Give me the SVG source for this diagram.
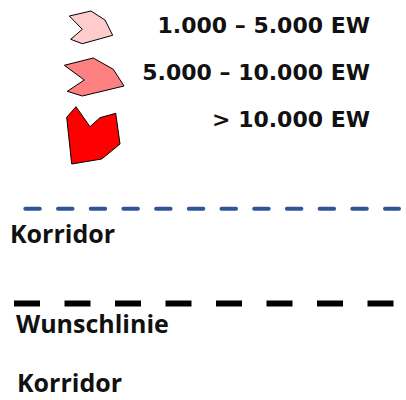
<svg xmlns="http://www.w3.org/2000/svg" width="406" height="400" viewBox="0 0 406 400">
  <style>
    .lbl { font-family: "Open Sans", "DejaVu Sans", sans-serif; font-weight: bold; font-size: 25px; fill: #111; }
    .num { font-family: "DejaVu Sans", "Open Sans", sans-serif; font-size: 22px; text-anchor: end; }
    .poly { stroke: #000; stroke-width: 1; stroke-linejoin: miter; }
  </style>
  <rect width="406" height="400" fill="#fff"/>

  <!-- population classes -->
  <g id="class-low">
    <polygon class="poly" fill="#FFCCCC" points="69.3,16 91,11 105,20 112.7,35.3 82.3,43.7 70.7,39.3 82.3,29.3"/>
    <text class="lbl num" x="370" y="33">1.000 – 5.000 EW</text>
  </g>
  <g id="class-mid">
    <polygon class="poly" fill="#FF8080" points="64.3,65.3 93.3,58 113.3,69.3 124,86 82.3,96 67.3,91.3 84.3,80"/>
    <text class="lbl num" x="370" y="80">5.000 – 10.000 EW</text>
  </g>
  <g id="class-high">
    <polygon class="poly" fill="#FF0000" points="66.7,117.3 76,106.7 90,126.7 100,117.7 115.7,113.3 120,144 101.7,159 71.7,164"/>
    <text class="lbl num" x="370" y="127">&gt; 10.000 EW</text>
  </g>

  <!-- line types -->
  <g id="connectors">
    <line x1="25.3" y1="208.7" x2="399" y2="208.7" stroke="#2F5597" stroke-width="4" stroke-linecap="round" stroke-dasharray="14.5 18.2"/>
    <line x1="14" y1="303.5" x2="397" y2="303.5" stroke="#000" stroke-width="6" stroke-dasharray="26 24.5"/>
  </g>
  <g id="label-korridor-1">
    <text class="lbl" x="10" y="243">Korridor</text>
  </g>
  <g id="label-wunschlinie">
    <text class="lbl" x="16" y="333">Wunschlinie</text>
  </g>
  <g id="label-korridor-2">
    <text class="lbl" x="17" y="392">Korridor</text>
  </g>
</svg>
